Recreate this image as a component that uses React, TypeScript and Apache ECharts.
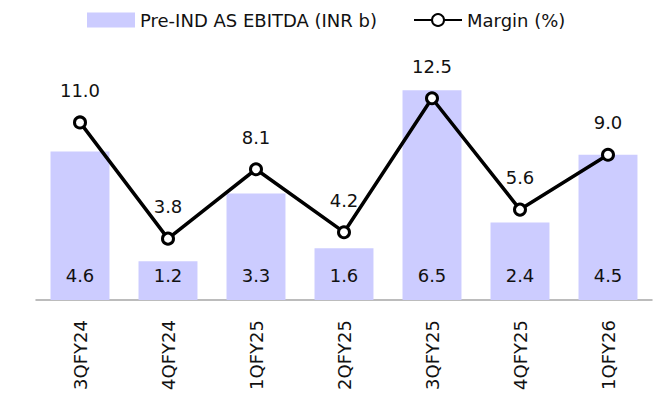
import React, { useEffect, useRef } from "react";
import * as echarts from "echarts";

const categories = ["3QFY24", "4QFY24", "1QFY25", "2QFY25", "3QFY25", "4QFY25", "1QFY26"];
const ebitda = [4.6, 1.2, 3.3, 1.6, 6.5, 2.4, 4.5];
const margin = [11.0, 3.8, 8.1, 4.2, 12.5, 5.6, 9.0];

const FONT = "DejaVu Sans";

export default function App() {
  const ref = useRef<HTMLDivElement>(null);
  useEffect(() => {
    document.body.style.margin = "0";
    if (!ref.current) return;
    const chart = echarts.init(ref.current, null, { renderer: "svg" });
    chart.setOption({
      animation: false,
      textStyle: { fontFamily: FONT },
      legend: {
        left: 87,
        top: 11,
        padding: 0,
        itemWidth: 48,
        itemHeight: 15,
        itemGap: 36,
        textStyle: { fontFamily: FONT, fontSize: 18, color: "#111" },
        data: [
          { name: "Pre-IND AS EBITDA (INR b)", icon: "rect" },
          { name: "Margin (%)" },
        ],
      },
      grid: { left: 36, right: 18, top: 74, bottom: 105 },
      xAxis: {
        type: "category",
        data: categories,
        axisLine: { show: true, lineStyle: { color: "#A6A6A6", width: 1.5 } },
        axisTick: { show: false },
        axisLabel: {
          rotate: 90,
          margin: 20,
          fontFamily: FONT,
          fontSize: 18,
          color: "#111",
        },
      },
      yAxis: [
        { type: "value", min: 0, max: 7, show: false, splitLine: { show: false } },
        { type: "value", min: 0, max: 14, show: false, splitLine: { show: false } },
      ],
      series: [
        {
          name: "Pre-IND AS EBITDA (INR b)",
          type: "bar",
          yAxisIndex: 0,
          data: ebitda,
          barWidth: "67%",
          itemStyle: { color: "#CCCCFF" },
          label: {
            show: true,
            position: "insideBottom",
            distance: 16,
            fontFamily: FONT,
            fontSize: 18,
            color: "#111",
            formatter: (p: any) => Number(p.value).toFixed(1),
          },
        },
        {
          name: "Margin (%)",
          type: "line",
          yAxisIndex: 1,
          data: margin,
          symbol: "circle",
          symbolSize: 11,
          lineStyle: { color: "#000", width: 3.5 },
          itemStyle: { color: "#fff", borderColor: "#000", borderWidth: 3 },
          label: {
            show: true,
            position: "top",
            distance: 16,
            fontFamily: FONT,
            fontSize: 18,
            color: "#111",
            formatter: (p: any) => Number(p.value).toFixed(1),
          },
        },
      ],
    });
    return () => chart.dispose();
  }, []);
  return <div ref={ref} style={{ width: 670, height: 405 }} />;
}
